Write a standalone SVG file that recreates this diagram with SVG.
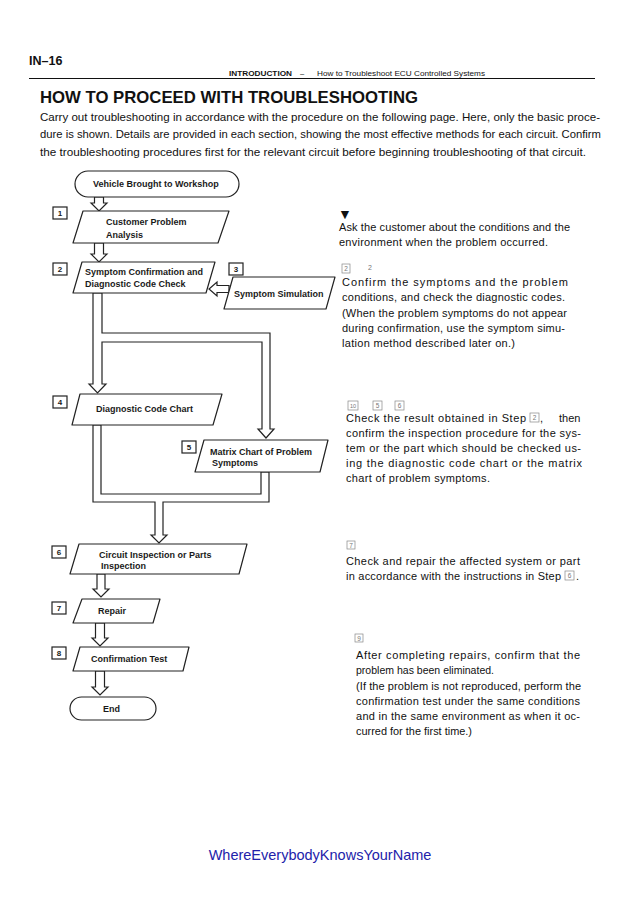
<svg xmlns="http://www.w3.org/2000/svg" width="638" height="903" viewBox="0 0 638 903">
<style>
text{font-family:"Liberation Sans",Arial,sans-serif;fill:#111}
.fl{font-size:9px;font-weight:bold;fill:#1a1a1a}
.shape{fill:#fff;stroke:#222;stroke-width:1.2;stroke-linejoin:round}
.num{fill:#fff;stroke:#222;stroke-width:1.2}
.numt{font-size:8px;font-weight:bold;text-anchor:middle;fill:#1a1a1a}
.pipe{fill:#fff;stroke:#222;stroke-width:1.2;stroke-linejoin:miter}
.body{font-size:11px}
.para{font-size:11px}
.gb{fill:none;stroke:#888;stroke-width:0.7}
.gt{font-size:6.5px;fill:#777;text-anchor:middle}
</style>
<rect width="638" height="903" fill="#fff"/>
<g id="header">
<text x="29" y="65" font-size="12.5" font-weight="bold">IN–16</text>
<text x="229" y="76" font-size="7.5" font-weight="bold" textLength="63" lengthAdjust="spacingAndGlyphs">INTRODUCTION</text>
<text x="300" y="76" font-size="7.5">–</text>
<text x="317" y="76" font-size="7.5" textLength="168" lengthAdjust="spacingAndGlyphs">How to Troubleshoot ECU Controlled Systems</text>
<line x1="29" y1="78.5" x2="595" y2="78.5" stroke="#111" stroke-width="1"/>
</g>
<g id="intro">
<text x="40" y="103" font-size="16.5" font-weight="bold" textLength="378" lengthAdjust="spacingAndGlyphs">HOW TO PROCEED WITH TROUBLESHOOTING</text>
<text class="para" x="40" y="121" textLength="560" lengthAdjust="spacingAndGlyphs">Carry out troubleshooting in accordance with the procedure on the following page. Here, only the basic proce-</text>
<text class="para" x="40" y="138" textLength="561" lengthAdjust="spacingAndGlyphs">dure is shown. Details are provided in each section, showing the most effective methods for each circuit. Confirm</text>
<text class="para" x="40" y="156" textLength="546" lengthAdjust="spacingAndGlyphs">the troubleshooting procedures first for the relevant circuit before beginning troubleshooting of that circuit.</text>
</g>
<g id="connectors">
<polygon class="pipe" points="94.5,197 103.5,197 103.5,203 107,203 99,211 91,203 94.5,203"/>
<polygon class="pipe" points="94.5,243 103.5,243 103.5,254 107,254 99,262 91,254 94.5,254"/>
<polygon class="pipe" points="229,285.5 217,285.5 217,282 209,289 217,296 217,292.5 229,292.5"/>
<polygon class="pipe" points="93,293 93,384 89,384 97.5,393 106,384 102,384 102,342 262,342 262,429 258,429 266,438 274,429 270,429 270,333 102,333 102,293"/>
<polygon class="pipe" points="93,425 93,502 155,502 155,535 151,535 159,543 167,535 163,535 163,502 269,502 269,472 261,472 261,494 101,494 101,425"/>
<polygon class="pipe" points="97,574 105,574 105,589 109,589 101,597 93,589 97,589"/>
<polygon class="pipe" points="95.5,623 104.5,623 104.5,638 108,638 100,646 92,638 95.5,638"/>
<polygon class="pipe" points="95.5,671 104.5,671 104.5,687 108,687 100,695 92,687 95.5,687"/>
</g>
<g id="start">
<rect class="shape" x="75" y="171" width="164" height="26" rx="13"/>
<text class="fl" x="93" y="187">Vehicle Brought to Workshop</text>
</g>
<g id="step1">
<rect class="num" x="53" y="207" width="14" height="12"/><text class="numt" x="60" y="216">1</text>
<polygon class="shape" points="83,211 229,211 218,243 73,243"/>
<text class="fl" x="106" y="225">Customer Problem</text>
<text class="fl" x="106" y="237.5">Analysis</text>
</g>
<g id="step2">
<rect class="num" x="53" y="263" width="14" height="12"/><text class="numt" x="60" y="272">2</text>
<polygon class="shape" points="82,262 215,262 206,293 73,293"/>
<text class="fl" x="85" y="275">Symptom Confirmation and</text>
<text class="fl" x="85" y="286.5">Diagnostic Code Check</text>
</g>
<g id="step3">
<rect class="num" x="229" y="263" width="14" height="12"/><text class="numt" x="236" y="272">3</text>
<polygon class="shape" points="233,277 335,277 326,309 224,309"/>
<text class="fl" x="234" y="296.5">Symptom Simulation</text>
</g>
<g id="step4">
<rect class="num" x="53" y="396" width="14" height="12"/><text class="numt" x="60" y="405">4</text>
<polygon class="shape" points="80,394 222,394 213,425 72,425"/>
<text class="fl" x="96" y="412">Diagnostic Code Chart</text>
</g>
<g id="step5">
<rect class="num" x="182" y="441" width="14" height="12"/><text class="numt" x="189" y="450">5</text>
<polygon class="shape" points="204,440 328,440 320,472 195,472"/>
<text class="fl" x="210" y="454.5">Matrix Chart of Problem</text>
<text class="fl" x="212" y="465.5">Symptoms</text>
</g>
<g id="step6">
<rect class="num" x="52" y="546" width="14" height="12"/><text class="numt" x="59" y="555">6</text>
<polygon class="shape" points="79,544 247,544 239,574 70,574"/>
<text class="fl" x="99" y="558">Circuit Inspection or Parts</text>
<text class="fl" x="101" y="568.5">Inspection</text>
</g>
<g id="step7">
<rect class="num" x="52" y="602" width="14" height="12"/><text class="numt" x="59" y="611">7</text>
<polygon class="shape" points="82,599 160,599 153,623 73,623"/>
<text class="fl" x="98" y="614">Repair</text>
</g>
<g id="step8">
<rect class="num" x="52" y="647" width="14" height="12"/><text class="numt" x="59" y="656">8</text>
<polygon class="shape" points="80,647 189,647 183,671 73,671"/>
<text class="fl" x="91" y="662">Confirmation Test</text>
</g>
<g id="end">
<rect class="shape" x="70" y="697" width="86" height="23" rx="11.5"/>
<text class="fl" x="103" y="711.5">End</text>
</g>
<g id="notes">
<text x="338" y="219" font-size="14" font-family="DejaVu Sans,sans-serif">▼</text>
<text class="body" x="339" y="231" textLength="231" lengthAdjust="spacing">Ask the customer about the conditions and the</text>
<text class="body" x="339" y="246" textLength="209" lengthAdjust="spacing">environment when the problem occurred.</text>

<rect class="gb" x="342" y="264" width="8" height="9"/><text class="gt" x="346" y="271">2</text>
<text x="368" y="270" font-size="7" style="fill:#777">2</text>
<text class="body" x="342" y="286" textLength="226" lengthAdjust="spacing">Confirm the symptoms and the problem</text>
<text class="body" x="342" y="301" textLength="223" lengthAdjust="spacing">conditions, and check the diagnostic codes.</text>
<text class="body" x="342" y="317" textLength="225" lengthAdjust="spacing">(When the problem symptoms do not appear</text>
<text class="body" x="342" y="332" textLength="223" lengthAdjust="spacing">during confirmation, use the symptom simu-</text>
<text class="body" x="342" y="347" textLength="173" lengthAdjust="spacing">lation method described later on.)</text>

<rect class="gb" x="348" y="401" width="10" height="9"/><text class="gt" x="353" y="408" style="font-size:5.5px">10</text>
<rect class="gb" x="373" y="401" width="9" height="9"/><text class="gt" x="377.5" y="408">5</text>
<rect class="gb" x="395" y="401" width="9" height="9"/><text class="gt" x="399.5" y="408">6</text>
<text class="body" x="346" y="422" textLength="180" lengthAdjust="spacing">Check the result obtained in Step</text>
<rect class="gb" x="530" y="413" width="9" height="9"/><text class="gt" x="534.5" y="420">2</text>
<text class="body" x="540" y="422">,</text>
<text class="body" x="559" y="422">then</text>
<text class="body" x="346" y="437" textLength="235" lengthAdjust="spacing">confirm the inspection procedure for the sys-</text>
<text class="body" x="346" y="452" textLength="235" lengthAdjust="spacing">tem or the part which should be checked us-</text>
<text class="body" x="346" y="467" textLength="236" lengthAdjust="spacing">ing the diagnostic code chart or the matrix</text>
<text class="body" x="346" y="482" textLength="144" lengthAdjust="spacing">chart of problem symptoms.</text>

<rect class="gb" x="347" y="541" width="8" height="8"/><text class="gt" x="351" y="547.5">7</text>
<text class="body" x="346" y="565" textLength="234" lengthAdjust="spacing">Check and repair the affected system or part</text>
<text class="body" x="346" y="580" textLength="215" lengthAdjust="spacing">in accordance with the instructions in Step</text>
<rect class="gb" x="565" y="571" width="9" height="9"/><text class="gt" x="569.5" y="578">6</text>
<text class="body" x="576" y="580">.</text>

<rect class="gb" x="355" y="634" width="8" height="8"/><text class="gt" x="359" y="640.5">9</text>
<text class="body" x="356" y="659" textLength="224" lengthAdjust="spacing">After completing repairs, confirm that the</text>
<text class="body" x="356" y="674" textLength="138" lengthAdjust="spacingAndGlyphs">problem has been eliminated.</text>
<text class="body" x="356" y="690" textLength="225" lengthAdjust="spacing">(If the problem is not reproduced, perform the</text>
<text class="body" x="356" y="705" textLength="224" lengthAdjust="spacing">confirmation test under the same conditions</text>
<text class="body" x="356" y="720" textLength="224" lengthAdjust="spacing">and in the same environment as when it oc-</text>
<text class="body" x="356" y="735" textLength="116" lengthAdjust="spacingAndGlyphs">curred for the first time.)</text>
</g>
<g id="footer">
<text x="320" y="860" font-size="14.5" text-anchor="middle" style="fill:#2222aa">WhereEverybodyKnowsYourName</text>
</g>
</svg>
